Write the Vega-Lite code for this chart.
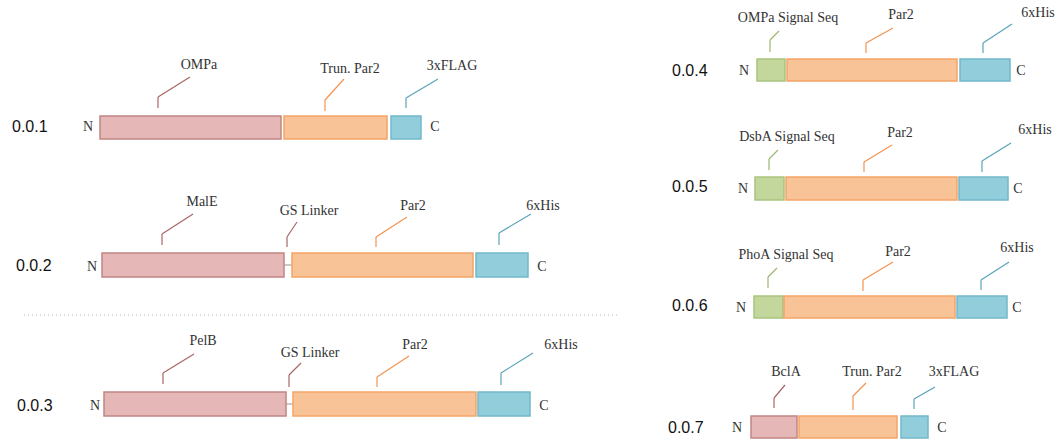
{
  "$schema": "https://vega.github.io/schema/vega-lite/v6.json",
  "width": 1056,
  "height": 440,
  "autosize": {"type": "fit", "contains": "padding"},
  "padding": 0,
  "background": "white",
  "config": {"view": {"stroke": null}},
  "datasets": {
    "boxes": [
      {"row": "0.0.1", "part": "pink", "x": 100, "x2": 281, "y": 116, "y2": 139},
      {"row": "0.0.1", "part": "orange", "x": 284, "x2": 387, "y": 116, "y2": 139},
      {"row": "0.0.1", "part": "blue", "x": 391, "x2": 421, "y": 116, "y2": 139},
      {"row": "0.0.2", "part": "pink", "x": 102, "x2": 284, "y": 253, "y2": 277},
      {"row": "0.0.2", "part": "orange", "x": 292, "x2": 473, "y": 253, "y2": 277},
      {"row": "0.0.2", "part": "blue", "x": 476, "x2": 528, "y": 253, "y2": 277},
      {"row": "0.0.3", "part": "pink", "x": 104, "x2": 286, "y": 392, "y2": 416},
      {"row": "0.0.3", "part": "orange", "x": 293, "x2": 476, "y": 392, "y2": 416},
      {"row": "0.0.3", "part": "blue", "x": 478, "x2": 530, "y": 392, "y2": 416},
      {"row": "0.0.4", "part": "green", "x": 757, "x2": 785, "y": 59, "y2": 81},
      {"row": "0.0.4", "part": "orange", "x": 787, "x2": 957, "y": 59, "y2": 81},
      {"row": "0.0.4", "part": "blue", "x": 960, "x2": 1010, "y": 59, "y2": 81},
      {"row": "0.0.5", "part": "green", "x": 755, "x2": 784, "y": 177, "y2": 200},
      {"row": "0.0.5", "part": "orange", "x": 786, "x2": 957, "y": 177, "y2": 200},
      {"row": "0.0.5", "part": "blue", "x": 959, "x2": 1008, "y": 177, "y2": 200},
      {"row": "0.0.6", "part": "green", "x": 754, "x2": 783, "y": 296, "y2": 318},
      {"row": "0.0.6", "part": "orange", "x": 784, "x2": 955, "y": 296, "y2": 318},
      {"row": "0.0.6", "part": "blue", "x": 957, "x2": 1007, "y": 296, "y2": 318},
      {"row": "0.0.7", "part": "pink", "x": 751, "x2": 797, "y": 416, "y2": 438},
      {"row": "0.0.7", "part": "orange", "x": 799, "x2": 897, "y": 416, "y2": 438},
      {"row": "0.0.7", "part": "blue", "x": 901, "x2": 928, "y": 416, "y2": 438}
    ],
    "segs": [
      {"part": "linker", "x": 284, "y": 265, "x2": 292, "y2": 265},
      {"part": "linker", "x": 286, "y": 404, "x2": 293, "y2": 404},
      {"part": "pinkL", "x": 158, "y": 108, "x2": 158, "y2": 97},
      {"part": "pinkL", "x": 158, "y": 97, "x2": 190, "y2": 77},
      {"part": "orangeL", "x": 325, "y": 111, "x2": 325, "y2": 100},
      {"part": "orangeL", "x": 325, "y": 100, "x2": 344, "y2": 79},
      {"part": "blueL", "x": 406, "y": 108, "x2": 406, "y2": 98},
      {"part": "blueL", "x": 406, "y": 98, "x2": 438, "y2": 79},
      {"part": "pinkL", "x": 162, "y": 245, "x2": 162, "y2": 234},
      {"part": "pinkL", "x": 162, "y": 234, "x2": 193, "y2": 214},
      {"part": "pinkL", "x": 287, "y": 247, "x2": 287, "y2": 237},
      {"part": "pinkL", "x": 287, "y": 237, "x2": 297, "y2": 222},
      {"part": "orangeL", "x": 376, "y": 247, "x2": 376, "y2": 237},
      {"part": "orangeL", "x": 376, "y": 237, "x2": 407, "y2": 217},
      {"part": "blueL", "x": 499, "y": 245, "x2": 499, "y2": 233},
      {"part": "blueL", "x": 499, "y": 233, "x2": 531, "y2": 214},
      {"part": "pinkL", "x": 163, "y": 384, "x2": 163, "y2": 373},
      {"part": "pinkL", "x": 163, "y": 373, "x2": 194, "y2": 354},
      {"part": "pinkL", "x": 289, "y": 387, "x2": 289, "y2": 375},
      {"part": "pinkL", "x": 289, "y": 375, "x2": 301, "y2": 363},
      {"part": "orangeL", "x": 377, "y": 387, "x2": 377, "y2": 377},
      {"part": "orangeL", "x": 377, "y": 377, "x2": 409, "y2": 356},
      {"part": "blueL", "x": 501, "y": 385, "x2": 501, "y2": 373},
      {"part": "blueL", "x": 501, "y": 373, "x2": 533, "y2": 353},
      {"part": "greenL", "x": 770, "y": 52, "x2": 770, "y2": 40},
      {"part": "greenL", "x": 770, "y": 40, "x2": 779, "y2": 31},
      {"part": "orangeL", "x": 866, "y": 53, "x2": 866, "y2": 43},
      {"part": "orangeL", "x": 866, "y": 43, "x2": 893, "y2": 28},
      {"part": "blueL", "x": 983, "y": 53, "x2": 983, "y2": 43},
      {"part": "blueL", "x": 983, "y": 43, "x2": 1012, "y2": 24},
      {"part": "greenL", "x": 769, "y": 170, "x2": 769, "y2": 159},
      {"part": "greenL", "x": 769, "y": 159, "x2": 778, "y2": 150},
      {"part": "orangeL", "x": 864, "y": 172, "x2": 864, "y2": 162},
      {"part": "orangeL", "x": 864, "y": 162, "x2": 892, "y2": 145},
      {"part": "blueL", "x": 982, "y": 172, "x2": 982, "y2": 161},
      {"part": "blueL", "x": 982, "y": 161, "x2": 1011, "y2": 143},
      {"part": "greenL", "x": 768, "y": 288, "x2": 768, "y2": 277},
      {"part": "greenL", "x": 768, "y": 277, "x2": 777, "y2": 268},
      {"part": "orangeL", "x": 863, "y": 291, "x2": 863, "y2": 280},
      {"part": "orangeL", "x": 863, "y": 280, "x2": 893, "y2": 262},
      {"part": "blueL", "x": 981, "y": 290, "x2": 981, "y2": 280},
      {"part": "blueL", "x": 981, "y": 280, "x2": 1009, "y2": 262},
      {"part": "pinkL", "x": 774, "y": 408, "x2": 774, "y2": 398},
      {"part": "pinkL", "x": 774, "y": 398, "x2": 785, "y2": 385},
      {"part": "orangeL", "x": 853, "y": 410, "x2": 853, "y2": 396},
      {"part": "orangeL", "x": 853, "y": 396, "x2": 866, "y2": 383},
      {"part": "blueL", "x": 914, "y": 409, "x2": 914, "y2": 399},
      {"part": "blueL", "x": 914, "y": 399, "x2": 935, "y2": 387}
    ],
    "divider": [
      {"x": 24, "y": 315, "x2": 617, "y2": 315}
    ],
    "partLabels": [
      {"text": "OMPa", "x": 199, "y": 65},
      {"text": "Trun. Par2", "x": 350, "y": 69},
      {"text": "3xFLAG", "x": 452, "y": 66},
      {"text": "MalE", "x": 202, "y": 202},
      {"text": "GS Linker", "x": 309, "y": 211},
      {"text": "Par2", "x": 413, "y": 206},
      {"text": "6xHis", "x": 543, "y": 206},
      {"text": "PelB", "x": 203, "y": 341},
      {"text": "GS Linker", "x": 310, "y": 353},
      {"text": "Par2", "x": 415, "y": 345},
      {"text": "6xHis", "x": 561, "y": 345},
      {"text": "OMPa Signal Seq", "x": 788, "y": 18},
      {"text": "Par2", "x": 901, "y": 15},
      {"text": "6xHis", "x": 1038, "y": 13},
      {"text": "DsbA Signal Seq", "x": 787, "y": 137},
      {"text": "Par2", "x": 900, "y": 133},
      {"text": "6xHis", "x": 1035, "y": 130},
      {"text": "PhoA Signal Seq", "x": 786, "y": 255},
      {"text": "Par2", "x": 898, "y": 252},
      {"text": "6xHis", "x": 1017, "y": 248},
      {"text": "BclA", "x": 786, "y": 372},
      {"text": "Trun. Par2", "x": 872, "y": 372},
      {"text": "3xFLAG", "x": 954, "y": 372}
    ],
    "termini": [
      {"text": "N", "x": 88, "y": 127},
      {"text": "C", "x": 435, "y": 127},
      {"text": "N", "x": 92, "y": 267},
      {"text": "C", "x": 542, "y": 267},
      {"text": "N", "x": 95, "y": 406},
      {"text": "C", "x": 544, "y": 406},
      {"text": "N", "x": 744, "y": 71},
      {"text": "C", "x": 1021, "y": 71},
      {"text": "N", "x": 743, "y": 189},
      {"text": "C", "x": 1018, "y": 189},
      {"text": "N", "x": 741, "y": 308},
      {"text": "C", "x": 1017, "y": 308},
      {"text": "N", "x": 737, "y": 428},
      {"text": "C", "x": 942, "y": 428}
    ],
    "rowLabels": [
      {"text": "0.0.1", "x": 12, "y": 127},
      {"text": "0.0.2", "x": 16, "y": 266},
      {"text": "0.0.3", "x": 17, "y": 406},
      {"text": "0.0.4", "x": 672, "y": 71},
      {"text": "0.0.5", "x": 672, "y": 187},
      {"text": "0.0.6", "x": 672, "y": 306},
      {"text": "0.0.7", "x": 668, "y": 428}
    ]
  },
  "layer": [
    {
      "data": {"name": "divider"},
      "mark": {"type": "rule", "stroke": "#b8b8b8", "strokeWidth": 1, "strokeDash": [1, 3]},
      "encoding": {
        "x": {"field": "x", "type": "quantitative", "scale": {"domain": [0, 1056]}, "axis": null},
        "y": {"field": "y", "type": "quantitative", "scale": {"domain": [0, 440], "reverse": true}, "axis": null},
        "x2": {"field": "x2"},
        "y2": {"field": "y2"}
      }
    },
    {
      "data": {"name": "segs"},
      "mark": {"type": "rule", "strokeWidth": 1.2},
      "encoding": {
        "x": {"field": "x", "type": "quantitative", "scale": {"domain": [0, 1056]}, "axis": null},
        "y": {"field": "y", "type": "quantitative", "scale": {"domain": [0, 440], "reverse": true}, "axis": null},
        "x2": {"field": "x2"},
        "y2": {"field": "y2"},
        "stroke": {
          "field": "part", "type": "nominal", "legend": null,
          "scale": {
            "domain": ["pink", "orange", "blue", "green", "pinkL", "orangeL", "blueL", "greenL", "linker"],
            "range": ["#c08583", "#f5a466", "#72b8ca", "#a9c47f", "#a86664", "#f39250", "#5aa3b8", "#9db86f", "#a8a8a8"]
          }
        }
      }
    },
    {
      "data": {"name": "boxes"},
      "mark": {"type": "rect", "strokeWidth": 1.5},
      "encoding": {
        "x": {"field": "x", "type": "quantitative", "scale": {"domain": [0, 1056]}, "axis": null},
        "x2": {"field": "x2"},
        "y": {"field": "y", "type": "quantitative", "scale": {"domain": [0, 440], "reverse": true}, "axis": null},
        "y2": {"field": "y2"},
        "fill": {
          "field": "part", "type": "nominal", "legend": null,
          "scale": {"domain": ["pink", "orange", "blue", "green"], "range": ["#e5b8b7", "#f9c398", "#92cddc", "#c3d69b"]}
        },
        "stroke": {"field": "part", "type": "nominal", "legend": null}
      }
    },
    {
      "data": {"name": "partLabels"},
      "mark": {"type": "text", "font": "Liberation Serif, Times New Roman, DejaVu Serif, serif", "fontSize": 14, "fill": "#333333", "align": "center", "baseline": "middle"},
      "encoding": {
        "x": {"field": "x", "type": "quantitative", "scale": {"domain": [0, 1056]}, "axis": null},
        "y": {"field": "y", "type": "quantitative", "scale": {"domain": [0, 440], "reverse": true}, "axis": null},
        "text": {"field": "text"}
      }
    },
    {
      "data": {"name": "termini"},
      "mark": {"type": "text", "font": "Liberation Serif, Times New Roman, DejaVu Serif, serif", "fontSize": 14, "fill": "#333333", "align": "center", "baseline": "middle"},
      "encoding": {
        "x": {"field": "x", "type": "quantitative", "scale": {"domain": [0, 1056]}, "axis": null},
        "y": {"field": "y", "type": "quantitative", "scale": {"domain": [0, 440], "reverse": true}, "axis": null},
        "text": {"field": "text"}
      }
    },
    {
      "data": {"name": "rowLabels"},
      "mark": {"type": "text", "font": "Liberation Sans, Arial, sans-serif", "fontSize": 16, "fill": "#111111", "align": "left", "baseline": "middle"},
      "encoding": {
        "x": {"field": "x", "type": "quantitative", "scale": {"domain": [0, 1056]}, "axis": null},
        "y": {"field": "y", "type": "quantitative", "scale": {"domain": [0, 440], "reverse": true}, "axis": null},
        "text": {"field": "text"}
      }
    }
  ]
}
